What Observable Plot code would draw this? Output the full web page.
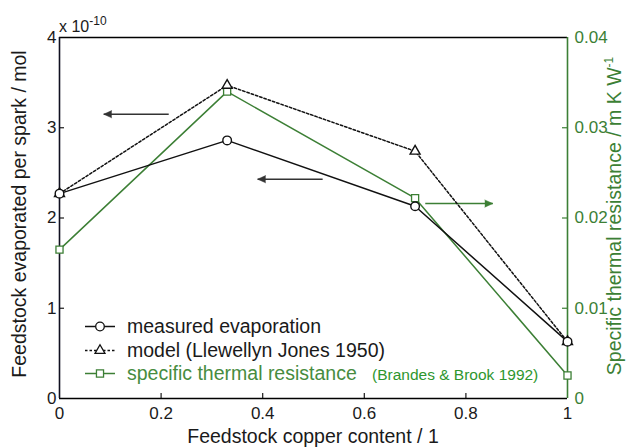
<!DOCTYPE html>
<html><head><meta charset="utf-8">
<script src="https://cdn.jsdelivr.net/npm/d3@7"></script>
<script src="https://cdn.jsdelivr.net/npm/@observablehq/plot@0.6"></script>
<style>body{margin:0;background:#fff} #chart{width:630px;height:448px}</style>
</head><body><div id="chart"></div>
<script>
// ---- data ----
const copper   = [0, 0.33, 0.7, 1];            // feedstock copper content
const measured = [2.27, 2.86, 2.13, 0.63];     // x 10^-10 mol
const model    = [2.27, 3.47, 2.74, 0.63];     // x 10^-10 mol
const thermal  = [0.0165, 0.0340, 0.0222, 0.00255]; // m K W^-1
const xTicks   = [0, 0.2, 0.4, 0.6, 0.8, 1];
const yTicks   = [0, 1, 2, 3, 4];
const y2Ticks  = [0, 0.01, 0.02, 0.03, 0.04];
// annotation arrows (data units): start x, tip x, y, axis
const arrowFrom = [0.215, 0.518, 0.72];
const arrowTo   = [0.087, 0.39, 0.853];
const arrowY    = [3.15, 2.43, 0.0216];
const arrowAxis = ["left", "left", "right"];

// ---- layout ----
const W = 630, H = 448, mL = 59, mR = 63, mT = 37, mB = 50;
const innerW = W - mL - mR, innerH = H - mT - mB;
const k = 4 / 0.04; // right-axis to left-axis factor
const green = "#3c7f35";
const ink = "#1a1a1a";
const font = "'Liberation Sans', Arial, Helvetica, sans-serif";

const idx = copper.map((_, i) => i);
const arrows = arrowFrom.map((x1, i) => ({
  x1, x2: arrowTo[i],
  y: arrowAxis[i] === "right" ? arrowY[i] * k : arrowY[i],
  color: arrowAxis[i] === "right" ? green : "#333",
  rot: arrowTo[i] < x1 ? 270 : 90
}));

const plot = Plot.plot({
  width: W, height: H,
  marginLeft: mL, marginRight: mR, marginTop: mT, marginBottom: mB,
  style: {fontFamily: font, background: "#fff", overflow: "visible"},
  x: {domain: [0, 1]},
  y: {domain: [0, 4]},
  marks: [
    Plot.axisX(xTicks, {tickSize: 0, tickPadding: 8, fontSize: 17, label: null, tickFormat: d => String(d), color: ink}),
    Plot.axisY(yTicks, {anchor: "left", tickSize: 0, tickPadding: 3, fontSize: 17, label: null, tickFormat: d => String(d), color: ink}),
    Plot.axisY(y2Ticks.map(v => v * k), {anchor: "right", tickSize: 0, tickPadding: 7, fontSize: 17, label: null,
      tickFormat: d => d3.format(".2~f")(d / k), color: green}),
    // inward ticks
    Plot.ruleX(xTicks.slice(1, -1), {insetTop: innerH - 5, stroke: ink, strokeWidth: 1.2}),
    Plot.ruleY(yTicks.slice(1, -1), {insetRight: innerW - 5, stroke: ink, strokeWidth: 1.2}),
    Plot.ruleY(y2Ticks.slice(1, -1).map(v => v * k), {insetLeft: innerW - 5, stroke: green, strokeWidth: 1.2}),
    // box
    Plot.ruleY([0, 4], {stroke: "#000", strokeWidth: 1.6}),
    Plot.ruleX([0], {stroke: "#101020", strokeWidth: 1.6}),
    Plot.ruleX([1], {stroke: green, strokeWidth: 1.6}),
    // arrows
    Plot.link(arrows, {x1: "x1", x2: "x2", y1: "y", y2: "y", stroke: "color", strokeWidth: 1.6}),
    Plot.vector(arrows, {x: "x2", y: "y", rotate: "rot", anchor: "end", shape: "spike", length: 8, r: 3.6,
      fill: "color", stroke: "color", strokeWidth: 0.5}),
    // series
    Plot.line(idx, {x: i => copper[i], y: i => thermal[i] * k, stroke: green, strokeWidth: 1.5}),
    Plot.line(idx, {x: i => copper[i], y: i => model[i], stroke: "#111", strokeWidth: 1.5, strokeDasharray: "2.5,2"}),
    Plot.line(idx, {x: i => copper[i], y: i => measured[i], stroke: "#111", strokeWidth: 1.5}),
    Plot.dot(idx, {x: i => copper[i], y: i => thermal[i] * k, symbol: "square", r: 4, fill: "#fff", stroke: green, strokeWidth: 1.3}),
    Plot.dot(idx, {x: i => copper[i], y: i => model[i], symbol: "triangle", r: 3.7, fill: "#fff", stroke: "#111", strokeWidth: 1.4}),
    Plot.dot(idx, {x: i => copper[i], y: i => measured[i], symbol: "circle", r: 4.3, fill: "#fff", stroke: "#111", strokeWidth: 1.4})
  ]
});
document.getElementById("chart").appendChild(plot);

// ---- texts & legend ----
const svg = d3.select(plot);
const g = svg.append("g").attr("font-family", font).attr("text-anchor", "start");

// exponent
const ex = g.append("text").attr("x", 59).attr("y", 32).attr("font-size", 16).attr("fill", ink);
ex.append("tspan").text("x 10");
ex.append("tspan").attr("dy", -7).attr("font-size", 12).text("-10");

// x title
g.append("text").attr("x", (mL + W - mR) / 2).attr("y", 443).attr("text-anchor", "middle")
  .attr("font-size", 19.5).attr("fill", ink).text("Feedstock copper content / 1");

// left title
g.append("text").attr("transform", "translate(26,214) rotate(-90)").attr("text-anchor", "middle")
  .attr("font-size", 19.5).attr("fill", ink).text("Feedstock evaporated per spark / mol");

// right title
const rt = g.append("text").attr("transform", "translate(621,216) rotate(-90)").attr("text-anchor", "middle")
  .attr("font-size", 19.5).attr("fill", green);
rt.append("tspan").text("Specific thermal resistance / m K W");
rt.append("tspan").attr("dy", -8).attr("font-size", 12).text("-1");

// legend
const legend = [
  {label: "measured evaporation", stroke: "#111", dash: null, sym: d3.symbolCircle, size: Math.PI * 4.3 * 4.3, color: ink, y: 333},
  {label: "model (Llewellyn Jones 1950)", stroke: "#111", dash: "2.5,2", sym: d3.symbolTriangle, size: Math.PI * 3.7 * 3.7, color: ink, y: 357},
  {label: "specific thermal resistance", stroke: green, dash: null, sym: d3.symbolSquare, size: Math.PI * 4 * 4, color: "#478c40", y: 380}
];
legend.forEach(d => {
  const cy = d.y - 6.5;
  g.append("line").attr("x1", 85).attr("x2", 115).attr("y1", cy).attr("y2", cy)
    .attr("stroke", d.stroke).attr("stroke-width", 1.5).attr("stroke-dasharray", d.dash);
  g.append("path").attr("d", d3.symbol(d.sym, d.size)()).attr("transform", `translate(100,${cy})`)
    .attr("fill", "#fff").attr("stroke", d.stroke).attr("stroke-width", 1.3);
  g.append("text").attr("x", 127).attr("y", d.y).attr("font-size", 19.5).attr("fill", d.color).text(d.label);
});
g.append("text").attr("x", 372).attr("y", 380).attr("font-size", 15.5).attr("fill", "#2e962e").text("(Brandes & Brook 1992)");
</script>
</body></html>
